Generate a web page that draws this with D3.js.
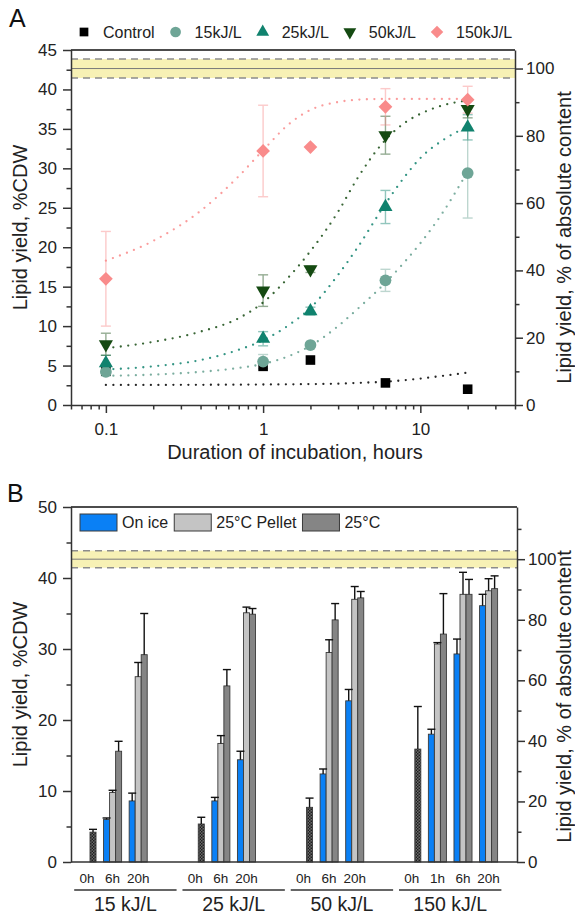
<!DOCTYPE html>
<html>
<head>
<meta charset="utf-8">
<script src="https://cdn.jsdelivr.net/npm/d3@7"></script>
<style>
  body { margin: 0; background: #fff; }
  svg { display: block; font-family: "Liberation Sans", Arial, sans-serif; }
</style>
</head>
<body>
<script>
// ---------- panel A data (time course)
const hours = [0.1, 1, 2, 6, 20]
const seriesNames = ["Control", "15kJ/L", "25kJ/L", "50kJ/L", "150kJ/L"]
const meanControl = [4.3, 4.9, 5.7, 2.8, 2.0]
const errControl = [0, 0, 0, 0, 0]
const mean15 = [4.2, 5.5, 7.6, 15.8, 29.4]
const err15 = [0.5, 0.9, 0.3, 1.4, 5.7]
const mean25 = [5.3, 8.4, 11.9, 25.1, 35.2]
const err25 = [1.0, 0.9, 0.5, 2.1, 1.6]
const mean50 = [7.7, 14.5, 17.2, 34.2, 37.5]
const err50 = [1.4, 2.0, 0.4, 2.4, 1.1]
const mean150 = [16.0, 32.2, 32.7, 37.8, 38.7]
const err150 = [6.0, 5.8, 0, 2.3, 1.7]

// fitted curves
const fitHours = [0.1, 0.2, 0.4, 0.7, 1, 1.5, 2, 3, 4, 6, 8, 10, 14, 20]
const fitControl = [2.55, 2.55, 2.56, 2.58, 2.6, 2.62, 2.65, 2.7, 2.8, 2.95, 3.15, 3.35, 3.7, 4.1]
const fit15 = [3.7, 3.85, 4.2, 4.7, 5.2, 6.3, 7.5, 10.0, 12.2, 15.5, 18.2, 20.5, 24.5, 29.6]
const fit25 = [4.5, 4.9, 5.7, 7.0, 8.2, 10.3, 12.3, 16.5, 20.0, 25.5, 29.0, 31.3, 33.6, 35.3]
const fit50 = [7.2, 8.0, 9.3, 11.0, 13.0, 16.5, 19.5, 24.5, 28.8, 33.6, 35.8, 36.9, 38.0, 38.6]
const fit150 = [18.3, 20.8, 24.6, 29.0, 32.3, 35.8, 37.4, 38.4, 38.7, 38.8, 38.8, 38.8, 38.8, 38.8]

// absolute lipid content (band) in %CDW
const absContent = 42.65
const absSD = 1.2

// ---------- panel B data (bars)
const groups = ["15 kJ/L", "25 kJ/L", "50 kJ/L", "150 kJ/L"]
const groupTimes = [["0h", "6h", "20h"], ["0h", "6h", "20h"], ["0h", "6h", "20h"], ["0h", "1h", "6h", "20h"]]
const conditions = ["On ice", "25°C Pellet", "25°C"]
const zeroHour = [4.2, 5.35, 7.7, 15.9]
const zeroHourErr = [0.4, 0.95, 1.3, 6.0]
// order: 15-6h, 15-20h, 25-6h, 25-20h, 50-6h, 50-20h, 150-1h, 150-6h, 150-20h
const onIce = [6.0, 8.6, 8.6, 14.4, 12.4, 22.7, 18.0, 29.3, 36.1]
const onIceErr = [0.2, 1.1, 0.5, 1.2, 0.7, 1.6, 0.7, 2.1, 1.6]
const pellet = [9.8, 26.1, 16.7, 35.1, 29.5, 37.0, 30.7, 37.7, 38.2]
const pelletErr = [0.3, 2.0, 1.1, 0.8, 1.8, 1.8, 0.2, 3.1, 1.7]
const roomTemp = [15.6, 29.2, 24.8, 34.9, 34.1, 37.2, 32.1, 37.7, 38.5]
const roomTempErr = [1.4, 5.8, 2.3, 0.8, 2.3, 0.9, 5.7, 2.1, 1.8]

// ---------- styles
const seriesColors = ["#000000", "#6ea596", "#10826e", "#154a12", "#f98b8b"]
const condColors = ["#0a80f5", "#c4c4c4", "#858585"]
const axisColor = "#333"
const width = 575, height = 917

const svg = d3.select("body").append("svg")
    .attr("width", width)
    .attr("height", height)

const defs = svg.append("defs")
const pat = defs.append("pattern")
    .attr("id", "hatch")
    .attr("width", 3).attr("height", 3)
    .attr("patternUnits", "userSpaceOnUse")
pat.append("rect").attr("width", 3).attr("height", 3).attr("fill", "#6a6a6a")
pat.append("rect").attr("width", 1.5).attr("height", 1.5).attr("fill", "#1e1e1e")
pat.append("rect").attr("x", 1.5).attr("y", 1.5).attr("width", 1.5).attr("height", 1.5).attr("fill", "#1e1e1e")

// symbol helper: i is the series index
function marker(sel, i, size) {
    const types = [d3.symbolSquare, d3.symbolCircle, d3.symbolTriangle, d3.symbolTriangle, d3.symbolSquare]
    const sizes = [80, 95, 75, 75, 82].map(s => s * size)
    sel.attr("d", d3.symbol().type(types[i]).size(sizes[i])())
        .attr("fill", seriesColors[i])
    return i === 3 ? "rotate(180)" : i === 4 ? "rotate(45)" : ""
}

function styleAxis(g, fontSize) {
    g.select(".domain").attr("stroke", axisColor).attr("stroke-width", 1.5)
    g.selectAll(".tick line").attr("stroke", axisColor).attr("stroke-width", 1.5)
    g.selectAll(".tick text").attr("font-size", fontSize).attr("fill", "#222")
        .attr("font-family", "Liberation Sans, Arial, sans-serif")
}

function band(g, y, x0, x1) {
    g.append("rect")
        .attr("x", x0).attr("width", x1 - x0)
        .attr("y", y(absContent + absSD))
        .attr("height", y(absContent - absSD) - y(absContent + absSD))
        .attr("fill", "#f7f1b5")
    g.append("line")
        .attr("x1", x0).attr("x2", x1)
        .attr("y1", y(absContent)).attr("y2", y(absContent))
        .attr("stroke", "#7a7a7a").attr("stroke-width", 1)
    ;[absContent + absSD, absContent - absSD].forEach(v => {
        g.append("line")
            .attr("x1", x0).attr("x2", x1)
            .attr("y1", y(v)).attr("y2", y(v))
            .attr("stroke", "#8c8c8c").attr("stroke-width", 1.5)
            .attr("stroke-dasharray", "7,5")
    })
}

// =====================================================================
// PANEL A
// =====================================================================
const A = {left: 71, right: 515, top: 50, bottom: 405}
const xA = d3.scaleLog().domain([0.06, 40]).range([A.left, A.right])
const yA = d3.scaleLinear().domain([0, 45]).range([A.bottom, A.top])
const yAr = d3.scaleLinear().domain([0, 45 / absContent * 100]).range([A.bottom, A.top])

const gA = svg.append("g")
band(gA, yA, A.left, A.right)

const means = [meanControl, mean15, mean25, mean50, mean150]
const errs = [errControl, err15, err25, err50, err150]
const fits = [fitControl, fit15, fit25, fit50, fit150]

// fitted dotted curves
const fitLine = d3.line()
    .x(d => xA(d[0]))
    .y(d => yA(d[1]))
    .curve(d3.curveMonotoneX)
fits.forEach((f, i) => {
    gA.append("path")
        .attr("d", fitLine(fitHours.map((h, k) => [h, f[k]])))
        .attr("fill", "none")
        .attr("stroke", seriesColors[i])
        .attr("stroke-width", 2.3)
        .attr("stroke-linecap", "round")
        .attr("stroke-dasharray", "0,7.5")
        .attr("opacity", i === 1 ? 0.9 : 0.85)
})

// error bars
means.forEach((m, i) => {
    hours.forEach((h, k) => {
        const e = errs[i][k]
        if (!e) return
        const cx = xA(h)
        const eg = gA.append("g").attr("stroke", seriesColors[i]).attr("stroke-width", 1.4).attr("opacity", 0.45)
        eg.append("line").attr("x1", cx).attr("x2", cx).attr("y1", yA(m[k] - e)).attr("y2", yA(m[k] + e))
        eg.append("line").attr("x1", cx - 5).attr("x2", cx + 5).attr("y1", yA(m[k] - e)).attr("y2", yA(m[k] - e))
        eg.append("line").attr("x1", cx - 5).attr("x2", cx + 5).attr("y1", yA(m[k] + e)).attr("y2", yA(m[k] + e))
    })
})

// markers
means.forEach((m, i) => {
    hours.forEach((h, k) => {
        const p = gA.append("path")
        const rot = marker(p, i, 1.15)
        p.attr("transform", `translate(${xA(h)},${yA(m[k])}) ${rot}`)
    })
})

// axes
const aLeft = gA.append("g").attr("transform", `translate(${A.left},0)`)
    .call(d3.axisLeft(yA).tickValues(d3.range(0, 46, 5)).tickSize(8).tickSizeOuter(0).tickPadding(6))
styleAxis(aLeft, 17)
const aLeftMinor = gA.append("g").attr("transform", `translate(${A.left},0)`)
    .call(d3.axisLeft(yA).tickValues(d3.range(2.5, 45, 5)).tickSize(4.5).tickFormat(""))
aLeftMinor.select(".domain").remove()
styleAxis(aLeftMinor, 17)

const aRight = gA.append("g").attr("transform", `translate(${A.right},0)`)
    .call(d3.axisRight(yAr).tickValues(d3.range(0, 101, 20)).tickSize(8).tickSizeOuter(0).tickPadding(3))
styleAxis(aRight, 17)
const aRightMinor = gA.append("g").attr("transform", `translate(${A.right},0)`)
    .call(d3.axisRight(yAr).tickValues(d3.range(10, 100, 20)).tickSize(4.5).tickFormat(""))
aRightMinor.select(".domain").remove()
styleAxis(aRightMinor, 17)

const majorHours = [0.1, 1, 10]
const aBottom = gA.append("g").attr("transform", `translate(0,${A.bottom})`)
    .call(d3.axisBottom(xA).tickValues(majorHours).tickFormat(d => String(d)).tickSize(8).tickSizeOuter(0).tickPadding(10))
styleAxis(aBottom, 17)
const aBottomMinor = gA.append("g").attr("transform", `translate(0,${A.bottom})`)
    .call(d3.axisBottom(xA).tickValues(xA.ticks().filter(t => !majorHours.some(m => Math.abs(m - t) < 1e-9))).tickSize(4.5).tickFormat(""))
aBottomMinor.select(".domain").remove()
styleAxis(aBottomMinor, 17)

gA.append("line")
    .attr("x1", A.left).attr("x2", A.right)
    .attr("y1", A.top).attr("y2", A.top)
    .attr("stroke", "#111").attr("stroke-width", 1.5)

// titles
gA.append("text")
    .attr("x", (A.left + A.right) / 2 + 2).attr("y", 459)
    .attr("text-anchor", "middle").attr("font-size", 20).attr("fill", "#222")
    .text("Duration of incubation, hours")
gA.append("text")
    .attr("transform", `translate(20,${(A.top + A.bottom) / 2}) rotate(-90)`)
    .attr("text-anchor", "middle").attr("dominant-baseline", "central")
    .attr("font-size", 20).attr("fill", "#222")
    .text("Lipid yield, %CDW")
gA.append("text")
    .attr("transform", `translate(564,${(A.top + A.bottom) / 2 + 10}) rotate(-90)`)
    .attr("text-anchor", "middle").attr("dominant-baseline", "central")
    .attr("font-size", 20).attr("fill", "#222")
    .text("Lipid yield, % of absolute content")
svg.append("text").attr("x", 9).attr("y", 27).attr("font-size", 25).attr("fill", "#111").text("A")

// legend A
let lx = 84
seriesNames.forEach((name, i) => {
    const p = gA.append("path")
    const rot = marker(p, i, 0.95)
    p.attr("transform", `translate(${lx},32) ${rot}`)
    const t = gA.append("text")
        .attr("x", lx + 19).attr("y", 38)
        .attr("font-size", 16).attr("fill", "#222")
        .text(name)
    lx += 19 + t.node().getComputedTextLength() + 21
})

// =====================================================================
// PANEL B
// =====================================================================
const B = {left: 71, right: 517, top: 507, bottom: 862}
const groupStride = 4.23
const xB = d3.scaleLinear().domain([-0.625, 16.8]).range([B.left, B.right]) // slot units
const yB = d3.scaleLinear().domain([0, 50]).range([B.bottom, B.top])
const yBr = d3.scaleLinear().domain([0, 50 / absContent * 100]).range([B.bottom, B.top])
const step = xB(1) - xB(0)
const barW = step * 0.235

const gB = svg.append("g")
band(gB, yB, B.left, B.right)

// build bar records
const condVals = [onIce, pellet, roomTemp]
const condErrs = [onIceErr, pelletErr, roomTempErr]
const bars = []
const timeLabels = []
let k = 0
groups.forEach((g, gi) => {
    groupTimes[gi].forEach((t, ti) => {
        const slot = gi * groupStride + ti
        timeLabels.push({slot, t})
        if (t === "0h") {
            bars.push({slot, pos: 1, value: zeroHour[gi], err: zeroHourErr[gi], fill: "url(#hatch)"})
        } else {
            conditions.forEach((c, ci) => {
                bars.push({slot, pos: ci - 1, value: condVals[ci][k], err: condErrs[ci][k], fill: condColors[ci]})
            })
            k++
        }
    })
})

gB.selectAll("rect.bar")
    .data(bars)
    .join("rect")
    .attr("class", "bar")
    .attr("x", d => xB(d.slot) + d.pos * barW - barW / 2)
    .attr("width", barW)
    .attr("y", d => yB(d.value))
    .attr("height", d => yB(0) - yB(d.value))
    .attr("fill", d => d.fill)
    .attr("stroke", "#3a3a3a")
    .attr("stroke-width", 0.9)

// error bars (upper half)
const ebs = gB.selectAll("g.eb")
    .data(bars)
    .join("g")
    .attr("class", "eb")
    .attr("stroke", "#111").attr("stroke-width", 1.4)
ebs.append("line")
    .attr("x1", d => xB(d.slot) + d.pos * barW).attr("x2", d => xB(d.slot) + d.pos * barW)
    .attr("y1", d => yB(d.value)).attr("y2", d => yB(d.value + d.err))
ebs.append("line")
    .attr("x1", d => xB(d.slot) + d.pos * barW - 4).attr("x2", d => xB(d.slot) + d.pos * barW + 4)
    .attr("y1", d => yB(d.value + d.err)).attr("y2", d => yB(d.value + d.err))

// axes B
const bLeft = gB.append("g").attr("transform", `translate(${B.left},0)`)
    .call(d3.axisLeft(yB).tickValues(d3.range(0, 51, 10)).tickSize(8).tickSizeOuter(0).tickPadding(6))
styleAxis(bLeft, 17)
const bLeftMinor = gB.append("g").attr("transform", `translate(${B.left},0)`)
    .call(d3.axisLeft(yB).tickValues(d3.range(5, 50, 10)).tickSize(4.5).tickFormat(""))
bLeftMinor.select(".domain").remove()
styleAxis(bLeftMinor, 17)

const bRight = gB.append("g").attr("transform", `translate(${B.right},0)`)
    .call(d3.axisRight(yBr).tickValues(d3.range(0, 101, 20)).tickSize(8).tickSizeOuter(0).tickPadding(3))
styleAxis(bRight, 17)
const bRightMinor = gB.append("g").attr("transform", `translate(${B.right},0)`)
    .call(d3.axisRight(yBr).tickValues(d3.range(10, 111, 20)).tickSize(4.5).tickFormat(""))
bRightMinor.select(".domain").remove()
styleAxis(bRightMinor, 17)

gB.append("line")
    .attr("x1", B.left).attr("x2", B.right)
    .attr("y1", B.bottom).attr("y2", B.bottom)
    .attr("stroke", axisColor).attr("stroke-width", 1.5)
gB.append("line")
    .attr("x1", B.left).attr("x2", B.right)
    .attr("y1", B.top).attr("y2", B.top)
    .attr("stroke", "#111").attr("stroke-width", 1.5)

// category labels
gB.selectAll("text.time")
    .data(timeLabels)
    .join("text")
    .attr("class", "time")
    .attr("x", d => xB(d.slot))
    .attr("y", 883)
    .attr("text-anchor", "middle")
    .attr("font-size", 13.5)
    .attr("fill", "#222")
    .text(d => d.t)

groups.forEach((g, gi) => {
    const base = gi * groupStride
    gB.append("line")
        .attr("x1", xB(base - 0.5)).attr("x2", xB(base + 3.5))
        .attr("y1", 890).attr("y2", 890)
        .attr("stroke", axisColor).attr("stroke-width", 1.5)
    gB.append("text")
        .attr("x", xB(base + 1.5)).attr("y", 911)
        .attr("text-anchor", "middle").attr("font-size", 19.5).attr("fill", "#222")
        .text(g)
})

gB.append("text")
    .attr("transform", `translate(20,${(B.top + B.bottom) / 2}) rotate(-90)`)
    .attr("text-anchor", "middle").attr("dominant-baseline", "central")
    .attr("font-size", 20).attr("fill", "#222")
    .text("Lipid yield, %CDW")
gB.append("text")
    .attr("transform", `translate(564,${(B.top + B.bottom) / 2 + 12}) rotate(-90)`)
    .attr("text-anchor", "middle").attr("dominant-baseline", "central")
    .attr("font-size", 20).attr("fill", "#222")
    .text("Lipid yield, % of absolute content")
svg.append("text").attr("x", 7).attr("y", 502).attr("font-size", 25).attr("fill", "#111").text("B")

// legend B
let bx = 80
conditions.forEach((c, ci) => {
    gB.append("rect")
        .attr("x", bx).attr("y", 514)
        .attr("width", 37).attr("height", 17)
        .attr("fill", condColors[ci])
        .attr("stroke", "#3a3a3a").attr("stroke-width", 1)
    const t = gB.append("text")
        .attr("x", bx + 42).attr("y", 528)
        .attr("font-size", 16).attr("fill", "#222")
        .text(c)
    bx += 42 + t.node().getComputedTextLength() + 6
})
</script>
</body>
</html>
